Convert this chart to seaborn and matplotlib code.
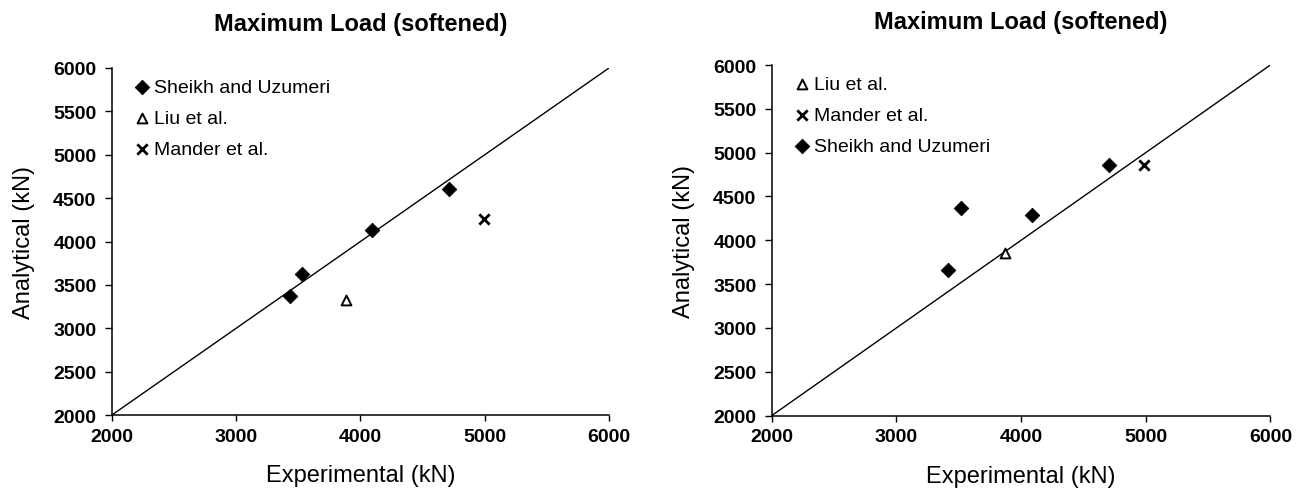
import matplotlib
matplotlib.use('Agg')
import pandas as pd
import seaborn as sns
import matplotlib.pyplot as plt

# data (kN)
left_sheikh_exp = [3430, 3530, 4095, 4715]
left_sheikh_ana = [3375, 3625, 4138, 4600]
left_liu_exp = [3885]
left_liu_ana = [3325]
left_mander_exp = [4995]
left_mander_ana = [4262]

right_liu_exp = [3870]
right_liu_ana = [3856]
right_mander_exp = [4990]
right_mander_ana = [4862]
right_sheikh_exp = [3416, 3515, 4086, 4708]
right_sheikh_ana = [3665, 4365, 4289, 4863]

line_range = [2000, 6000]
x_ticks = [2000, 3000, 4000, 5000, 6000]
y_ticks = [2000, 2500, 3000, 3500, 4000, 4500, 5000, 5500, 6000]

sns.set_style("ticks")
plt.rcParams['font.family'] = ['Liberation Sans', 'DejaVu Sans']
plt.rcParams['text.color'] = 'black'
plt.rcParams['axes.labelcolor'] = 'black'
plt.rcParams['xtick.color'] = 'black'
plt.rcParams['ytick.color'] = 'black'

styles = {
    "Sheikh and Uzumeri": dict(marker="D", color="black", edgecolor="black", s=55),
    "Liu et al.": dict(marker="^", color="white", edgecolor="black", linewidth=1.4, s=50),
    "Mander et al.": dict(marker="x", color="black", linewidth=2, s=55),
}

panels = [
    ([0.0858, 0.149, 0.382, 0.710],
     [("Sheikh and Uzumeri", left_sheikh_exp, left_sheikh_ana),
      ("Liu et al.", left_liu_exp, left_liu_ana),
      ("Mander et al.", left_mander_exp, left_mander_ana)]),
    ([0.5927, 0.148, 0.383, 0.717],
     [("Liu et al.", right_liu_exp, right_liu_ana),
      ("Mander et al.", right_mander_exp, right_mander_ana),
      ("Sheikh and Uzumeri", right_sheikh_exp, right_sheikh_ana)]),
]

fig = plt.figure(figsize=(13.02, 4.89), dpi=100)
for rect, series in panels:
    ax = fig.add_axes(rect)
    ax.plot(line_range, line_range, color="black", linewidth=1.0, zorder=1)
    for name, xs, ys in series:
        df = pd.DataFrame({"exp": xs, "ana": ys})
        sns.scatterplot(data=df, x="exp", y="ana", ax=ax, label=name,
                        zorder=3, **styles[name])
    ax.set_xlim(2000, 6000)
    ax.set_ylim(2000, 6000)
    ax.set_xticks(x_ticks)
    ax.set_yticks(y_ticks)
    for lab in ax.get_xticklabels() + ax.get_yticklabels():
        lab.set_fontweight("bold")
        lab.set_fontsize(14)
    ax.tick_params(axis="x", direction="out", length=4, width=1, pad=5)
    ax.tick_params(axis="y", direction="out", length=5, width=1, pad=6)
    sns.despine(ax=ax)
    for sp in ["left", "bottom"]:
        ax.spines[sp].set_color("black")
        ax.spines[sp].set_linewidth(1.1)
    ax.set_xlabel("Experimental (kN)", fontsize=17, labelpad=14)
    ax.set_ylabel("Analytical (kN)", fontsize=17, labelpad=13)
    ax.set_title("Maximum Load (softened)", fontsize=17, fontweight="bold", pad=27)
    ax.legend(loc="upper left", frameon=False, fontsize=14, handletextpad=0.2,
              borderaxespad=0, borderpad=0, labelspacing=0.68, handlelength=0.8,
              bbox_to_anchor=(0.045, 0.97))

plt.savefig("out.png", dpi=100)
